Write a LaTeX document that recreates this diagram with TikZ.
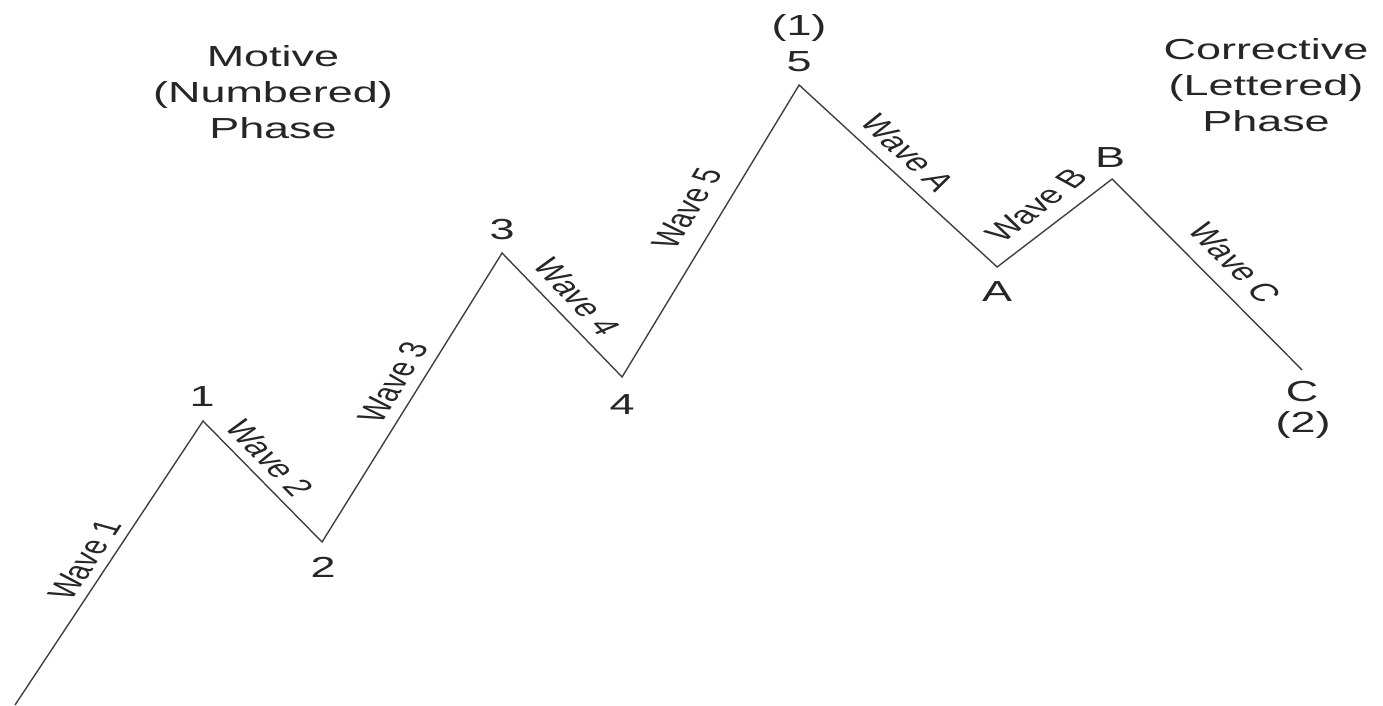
\documentclass[tikz,border=0pt]{standalone}
\usepackage{fontspec}
\setmainfont{Liberation Sans}
\begin{document}
\begin{tikzpicture}[x=0.64516pt, y=-1pt, xscale=1.55,
  every node/.style={transform shape, inner sep=0pt, text=black!85},
  wavelbl/.style={font=\fontsize{25}{25}\selectfont},
  ptlbl/.style={font=\fontsize{29}{29}\selectfont},
  phase/.style={align=center, font=\fontsize{29}{36}\selectfont},
  waveline/.style={draw=black!75, line width=1.4pt, line join=miter}]
\useasboundingbox (0,0) rectangle (1383,705);
% vertices
\coordinate (s)  at (15,705);
\coordinate (v1) at (203,421);
\coordinate (v2) at (322,542);
\coordinate (v3) at (502,253);
\coordinate (v4) at (622,377);
\coordinate (v5) at (799,85);
\coordinate (vA) at (997,267);
\coordinate (vB) at (1112,179);
\coordinate (vC) at (1302,370);
\draw[waveline] (s) -- (v1) -- (v2) -- (v3) -- (v4) -- (v5) -- (vA) -- (vB) -- (vC);
% point labels
\node[ptlbl] (l1) at (202,397) {1};
\node[ptlbl] (l2) at (323,567) {2};
\node[ptlbl] (l3) at (502,230) {3};
\node[ptlbl] (l4) at (622,405) {4};
\node[ptlbl] (l5) at (799,62) {5};
\node[ptlbl] (l5b) at (799,28) {(1)};
\node[ptlbl] (lA) at (997,292) {A};
\node[ptlbl] (lB) at (1110,158) {B};
\node[ptlbl] (lC) at (1302,392) {C};
\node[ptlbl] (lCb) at (1303,425) {(2)};
% wave labels
\node[wavelbl, rotate=66.9] (w1) at (85,560) {Wave 1};
\node[wavelbl, rotate=-57.6] (w2) at (270,458) {Wave 2};
\node[wavelbl, rotate=68.1] (w3) at (393,382) {Wave 3};
\node[wavelbl, rotate=-58.0] (w4) at (577,297) {Wave 4};
\node[wavelbl, rotate=68.6] (w5) at (687,208) {Wave 5};
\node[wavelbl, rotate=-54.9] (wA) at (908,153) {Wave A};
\node[wavelbl, rotate=49.9] (wB) at (1037,205) {Wave B};
\node[wavelbl, rotate=-57.3] (wC) at (1235,263) {Wave C};
% phase labels
\node[phase] (motive) at (273,92) {Motive\\(Numbered)\\Phase};
\node[phase] (corr) at (1266,85) {Corrective\\(Lettered)\\Phase};
\end{tikzpicture}
\end{document}
